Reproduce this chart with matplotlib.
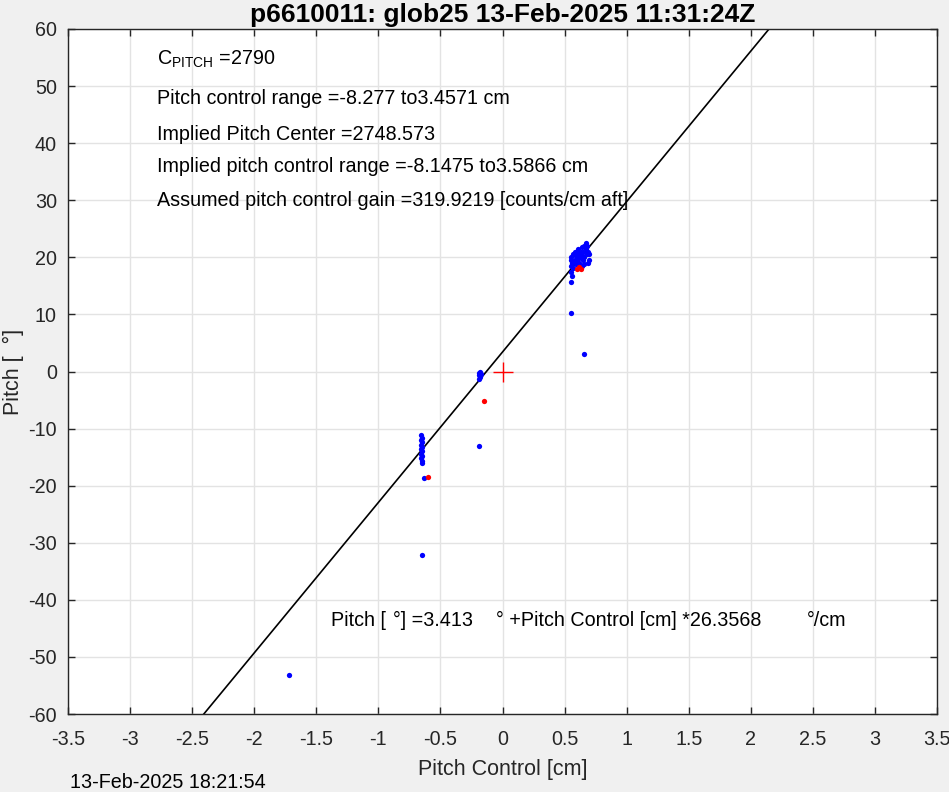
import numpy as np
import matplotlib.pyplot as plt

plt.rcParams['font.family'] = ['Liberation Sans', 'DejaVu Sans']
plt.rcParams['axes.unicode_minus'] = False

# blue: all samples, red: selected samples
blue_x = [0.55, 0.55, 0.55, 0.55, 0.56, 0.57, 0.57, 0.58, 0.58, 0.59, 0.59, 0.60, 0.60, 0.61,
          0.61, 0.62, 0.62, 0.63, 0.63, 0.64, 0.64, 0.65, 0.65, 0.66, 0.66, 0.67, 0.67, 0.68,
          0.68, 0.69, 0.70, 0.70, 0.69, 0.66, 0.64, 0.56, 0.55, 0.55, 0.66,
          -0.655, -0.645, -0.655, -0.645, -0.655, -0.645, -0.655, -0.645, -0.655, -0.645,
          -0.655, -0.645, -0.650, -0.63, -0.645,
          -0.19, -0.18, -0.19, -0.18, -0.17, -0.19, -0.19,
          -1.72]
blue_y = [17.5, 18.5, 19.5, 20.0, 19.0, 18.2, 20.5, 19.5, 21.0, 18.8, 20.2, 19.5, 21.0, 20.0,
          21.5, 19.0, 20.5, 21.0, 19.8, 20.3, 21.8, 19.5, 21.0, 22.0, 20.0, 21.5, 22.5, 20.5,
          22.0, 21.0, 20.5, 19.5, 19.0, 18.8, 18.5, 16.7, 15.7, 10.3, 3.0,
          -11.2, -11.6, -12.0, -12.4, -12.8, -13.2, -13.6, -14.0, -14.4, -14.8,
          -15.2, -15.6, -16.0, -18.7, -32.2,
          -0.2, 0.0, -0.6, -1.0, -0.4, -1.3, -13.0,
          -53.2]
red_x = [0.60, 0.62, 0.63, -0.60, -0.15]
red_y = [18.0, 18.3, 18.0, -18.4, -5.1]

intercept = 3.413
slope = 26.3568

title = 'p6610011: glob25 13-Feb-2025 11:31:24Z'
info_lines = ['$\\mathregular{C_{PITCH}}$ =2790',
              'Pitch control range =-8.277 to3.4571 cm',
              'Implied Pitch Center =2748.573',
              'Implied pitch control range =-8.1475 to3.5866 cm',
              'Assumed pitch control gain =319.9219 [counts/cm aft]']
info_y = [54.6, 47.9, 41.6, 36.0, 29.9]
fit_parts = ['Pitch [', '\u00b0] =3.413', '\u00b0 +Pitch Control [cm] *26.3568', '\u00b0/cm']
fit_parts_x = [-1.385, -0.88, -0.05, 2.45]

fig = plt.figure(figsize=(9.49, 7.92), dpi=100, facecolor='#f0f0f0')
ax = fig.add_axes([68 / 949, 78 / 792, 869 / 949, 685 / 792])

xl = np.array([-3.5, 3.5])
ax.plot(xl, intercept + slope * xl, color='k', lw=1.2, zorder=2)
ax.plot(blue_x, blue_y, 'o', color='#0000ff', ms=3.8, mew=0, zorder=3)
ax.plot(red_x, red_y, 'o', color='#ff0000', ms=3.8, mew=0, zorder=4)
ax.plot(0, 0, '+', color='#ff0000', ms=15, mew=1.0, zorder=5)

ax.set_xlim(-3.5, 3.5)
ax.set_ylim(-60, 60)
xt = np.arange(-3.5, 3.51, 0.5)
ax.set_xticks(xt)
ax.set_xticklabels(['%g' % v for v in xt])
ax.set_yticks(np.arange(-60, 61, 10))
ax.grid(True, color='#e3e3e3', lw=1.0)
ax.set_axisbelow(True)
ax.tick_params(direction='in', top=True, right=True, length=5, width=1, pad=8,
               colors='#262626', labelsize=14.2, labelcolor='#262626')
ax.tick_params(axis='x', pad=11.5)
for s in ax.spines.values():
    s.set_color('#262626')
    s.set_linewidth(1)

ax.set_xlabel('Pitch Control [cm]', fontsize=15.5, color='#262626', labelpad=7)
ax.set_ylabel('Pitch [  \u00b0]', fontsize=15.5, color='#262626', labelpad=3)
ax.set_title(title, fontsize=19, fontweight='bold', pad=5)

for txt, yy in zip(info_lines, info_y):
    ax.text(-2.78, yy, txt, fontsize=14.2, va='center', ha='left')
for txt, xx in zip(fit_parts, fit_parts_x):
    ax.text(xx, -43.7, txt, fontsize=14.2, va='center', ha='left')

fig.text(70 / 949, 1 - 782 / 792, '13-Feb-2025 18:21:54', fontsize=14.2, va='center', ha='left')

fig.savefig('out.png', dpi=100, facecolor=fig.get_facecolor())
